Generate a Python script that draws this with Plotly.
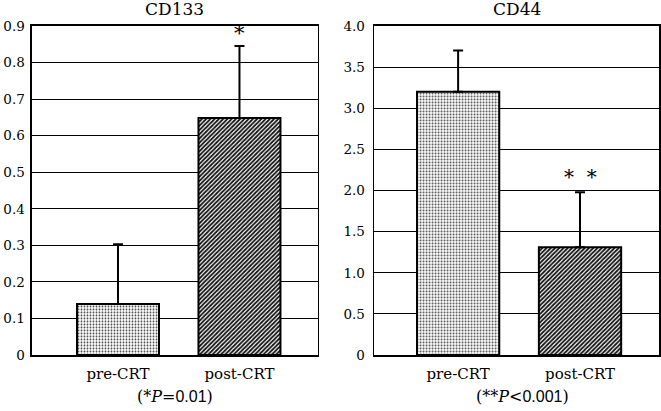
import plotly.graph_objects as go

categories = ["pre-CRT", "post-CRT"]
cd133_mean = [0.14, 0.648]
cd133_err = [0.163, 0.197]
cd44_mean = [3.2, 1.31]
cd44_err = [0.50, 0.67]
cd133_ticks = [0, 0.1, 0.2, 0.3, 0.4, 0.5, 0.6, 0.7, 0.8, 0.9]
cd133_ticklabels = ["0", "0.1", "0.2", "0.3", "0.4", "0.5", "0.6", "0.7", "0.8", "0.9"]
cd44_ticks = [0, 0.5, 1.0, 1.5, 2.0, 2.5, 3.0, 3.5, 4.0]
cd44_ticklabels = ["0", "0.5", "1.0", "1.5", "2.0", "2.5", "3.0", "3.5", "4.0"]

FONT = "DejaVu Serif, Liberation Serif, serif"
SANS = "Liberation Sans"
xpos = [0, 1]
patterns = [dict(shape=".", fgcolor="#444444", bgcolor="white", size=3, solidity=0.3),
            dict(shape="/", fgcolor="#111111", bgcolor="white", size=3, solidity=0.6)]

fig = go.Figure()

def add_bars(means, errs, xa, ya):
    for i in range(2):
        fig.add_trace(go.Bar(
            x=[xpos[i]], y=[means[i]], width=0.675,
            xaxis=xa, yaxis=ya,
            marker=dict(color="white", pattern=patterns[i],
                        line=dict(color="black", width=2)),
            error_y=dict(type="data", symmetric=False, array=[errs[i]], arrayminus=[0],
                         color="black", thickness=2, width=5),
            showlegend=False, hoverinfo="skip"))

add_bars(cd133_mean, cd133_err, "x", "y")
add_bars(cd44_mean, cd44_err, "x2", "y2")

axis_common = dict(showline=True, linecolor="black", linewidth=1.5, mirror=True,
                   ticks="", automargin=False)
xfont = dict(family=FONT, size=15, color="black")
yfont = dict(family=FONT, size=13.5, color="black")

fig.update_layout(
    template="none",
    width=661, height=411, margin=dict(l=0, r=0, t=0, b=0),
    plot_bgcolor="white", paper_bgcolor="white", bargap=0, showlegend=False,
    font=dict(family=FONT, color="black"),
    xaxis=dict(domain=[0.0484, 0.481], range=[-0.708, 1.646], tickvals=xpos,
               ticktext=categories, showgrid=False, zeroline=False, anchor="y",
               tickfont=xfont, ticklabelstandoff=4, **axis_common),
    yaxis=dict(domain=[0.136, 0.937], range=[0, 0.9], tickvals=cd133_ticks,
               ticktext=cd133_ticklabels, showgrid=True, gridcolor="black", gridwidth=1,
               zeroline=False, anchor="x", ticklabelstandoff=3, tickfont=yfont, **axis_common),
    xaxis2=dict(domain=[0.566, 0.997], range=[-0.689, 1.648], tickvals=xpos,
                ticktext=categories, showgrid=False, zeroline=False, anchor="y2",
                tickfont=xfont, ticklabelstandoff=4, **axis_common),
    yaxis2=dict(domain=[0.136, 0.937], range=[0, 4.0], tickvals=cd44_ticks,
                ticktext=cd44_ticklabels, showgrid=True, gridcolor="black", gridwidth=1,
                zeroline=False, anchor="x2", ticklabelstandoff=5, tickfont=yfont, **axis_common),
)

fig.add_annotation(text="CD133", xref="x domain", yref="paper", x=0.5, y=0.979,
                   yanchor="middle", showarrow=False, font=dict(family=FONT, size=17, color="black"))
fig.add_annotation(text="CD44", xref="x2 domain", yref="paper", x=0.5, y=0.979,
                   yanchor="middle", showarrow=False, font=dict(family=FONT, size=17, color="black"))
fig.add_annotation(text="*", xref="x", yref="y", x=1, y=cd133_mean[1] + cd133_err[1],
                   yanchor="middle", yshift=13, showarrow=False,
                   font=dict(family=FONT, size=21, color="black"))
fig.add_annotation(text="*  *", xref="x2", yref="y2", x=1, y=cd44_mean[1] + cd44_err[1],
                   yanchor="middle", yshift=15, showarrow=False,
                   font=dict(family=FONT, size=20, color="black"))
fig.add_annotation(text="(*<i>P</i>=<span style=\"font-family:Liberation Sans\">0.01</span>)",
                   xref="x domain", yref="paper", x=0.5, y=(411 - 396) / 411, yanchor="middle",
                   showarrow=False, font=dict(family=FONT, size=16, color="black"))
fig.add_annotation(text="(**<i>P</i>&lt;<span style=\"font-family:Liberation Sans\">0.001</span>)",
                   xref="x2 domain", yref="paper", x=0.52, y=(411 - 396) / 411, yanchor="middle",
                   showarrow=False, font=dict(family=FONT, size=16, color="black"))

fig.write_html("out.html", config={"displayModeBar": False, "staticPlot": True},
               post_script="document.body.style.margin='0';document.body.style.overflow='hidden';")
